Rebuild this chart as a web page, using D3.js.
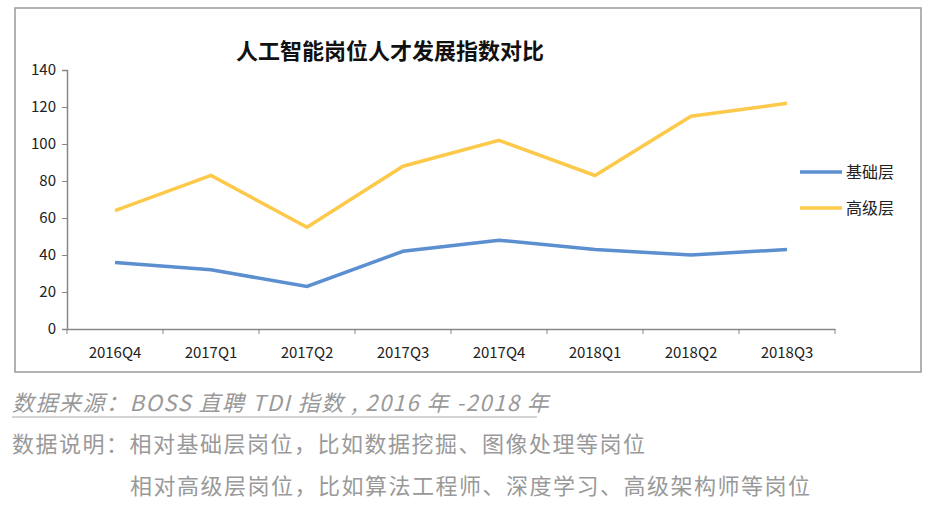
<!DOCTYPE html>
<html lang="zh">
<head>
    <meta charset="UTF-8">
    <script src="https://d3js.org/d3.v7.min.js"></script>
    <title>人工智能岗位人才发展指数对比</title>
    <style>
        body { margin: 0; background: #fff; }
        text { font-family: "Noto Sans CJK SC", "Noto Sans", sans-serif; }
    </style>
</head>
<body>
<script>
    const categories = ["2016Q4", "2017Q1", "2017Q2", "2017Q3", "2017Q4", "2018Q1", "2018Q2", "2018Q3"];
    const basic = [36, 32, 23, 42, 48, 43, 40, 43];
    const senior = [64, 83, 55, 88, 102, 83, 115, 122];
    const yTicks = [0, 20, 40, 60, 80, 100, 120, 140];
    const seriesNames = ["基础层", "高级层"];
    const colors = ["#5b8fd0", "#fcc94a"];

    const svg = d3.select("body").append("svg").attr("width", 935).attr("height", 510);

    // frame
    svg.append("rect").attr("x", 15).attr("y", 8).attr("width", 906).attr("height", 364)
        .attr("fill", "#fff").attr("stroke", "#999").attr("stroke-width", 1.5);

    svg.append("text").attr("x", 390).attr("y", 59).attr("text-anchor", "middle")
        .attr("font-size", 22).attr("font-weight", "bold").attr("fill", "#111")
        .text("人工智能岗位人才发展指数对比");

    const x = d3.scaleBand().domain(categories).range([67, 835]);
    const y = d3.scaleLinear().domain([0, 140]).range([329, 70]);

    const yAxis = svg.append("g").attr("transform", "translate(67,0)")
        .call(d3.axisLeft(y).tickValues(yTicks).tickSize(5).tickPadding(6));
    const xAxis = svg.append("g").attr("transform", "translate(0,329)")
        .call(d3.axisBottom(x).tickSize(0).tickPadding(18));
    xAxis.selectAll(".tick").append("line").attr("x1", x.bandwidth() / 2).attr("x2", x.bandwidth() / 2)
        .attr("y1", 0).attr("y2", 5).attr("stroke", "#888");
    svg.append("line").attr("x1", 67).attr("x2", 67).attr("y1", 329).attr("y2", 334).attr("stroke", "#888");
    [yAxis, xAxis].forEach(g => {
        g.select(".domain").attr("stroke", "#888").attr("stroke-width", 1.5);
        g.selectAll(".tick line").attr("stroke", "#888");
        g.selectAll("text").attr("font-size", 15).attr("font-family", "DejaVu Sans").attr("fill", "#222");
    });

    const line = d3.line().x((d, i) => x(categories[i]) + x.bandwidth() / 2).y(d => y(d));
    [basic, senior].forEach((s, k) => {
        svg.append("path").datum(s).attr("fill", "none").attr("stroke", colors[k])
            .attr("stroke-width", 3.5).attr("d", line);
    });

    // legend
    seriesNames.forEach((n, k) => {
        const ly = 172 + k * 36;
        svg.append("line").attr("x1", 800).attr("x2", 842).attr("y1", ly).attr("y2", ly)
            .attr("stroke", colors[k]).attr("stroke-width", 3.5);
        svg.append("text").attr("x", 846).attr("y", ly + 6).attr("font-size", 16).attr("fill", "#222").text(n);
    });

    // notes
    svg.append("text").attr("x", 12).attr("y", 411).attr("font-size", 22).attr("font-style", "italic")
        .attr("letter-spacing", 1.5).attr("fill", "#999").text("数据来源：BOSS 直聘 TDI 指数 , 2016 年 -2018 年");
    svg.append("line").attr("x1", 12).attr("x2", 537).attr("y1", 417).attr("y2", 417).attr("stroke", "#aaa");
    svg.append("text").attr("x", 12).attr("y", 452).attr("font-size", 22).attr("letter-spacing", 1.5)
        .attr("fill", "#999").text("数据说明：相对基础层岗位，比如数据挖掘、图像处理等岗位");
    svg.append("text").attr("x", 130).attr("y", 494).attr("font-size", 22).attr("letter-spacing", 1.5)
        .attr("fill", "#999").text("相对高级层岗位，比如算法工程师、深度学习、高级架构师等岗位");
</script>
</body>
</html>
